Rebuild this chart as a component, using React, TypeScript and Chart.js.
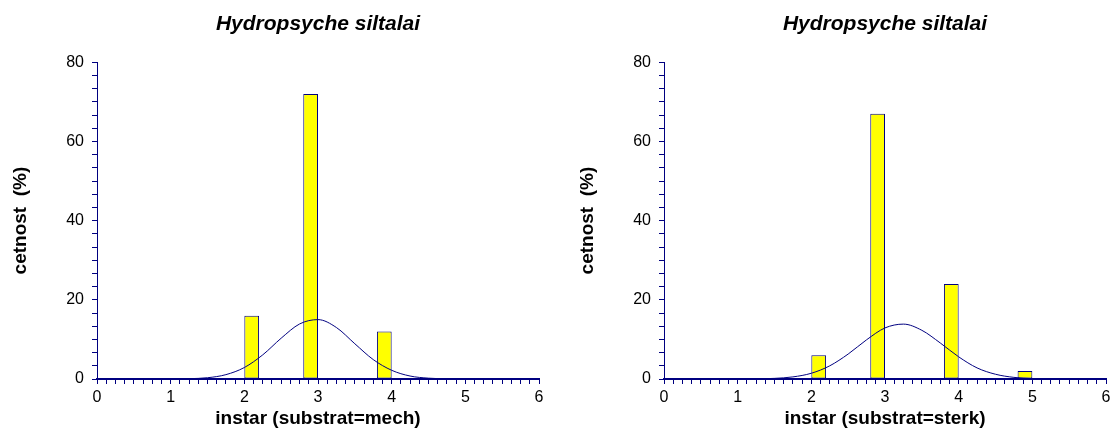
import React, { useEffect, useRef } from "react";
import { Chart, registerables } from "chart.js";

Chart.register(...registerables);

// ---------- data ----------
const chartTitle = "Hydropsyche siltalai";
const yTitle = "cetnost  (%)";
const xTitleLeft = "instar (substrat=mech)";
const xTitleRight = "instar (substrat=sterk)";

// bar centres as drawn (each bar is 0.2 wide)
const barXLeft = [2.1, 2.9, 3.9];
const barYLeft = [16, 72, 12];
const barXRight = [2.1, 2.9, 3.9, 4.9];
const barYRight = [6, 67, 24, 2];
const binWidth = 0.2;

// fitted curve
const curveX = [0, 0.5, 1, 1.25, 1.5, 1.75, 2, 2.25, 2.5, 2.75, 3, 3.25, 3.5, 3.75, 4, 4.25, 4.5, 4.75, 5, 5.5, 6];
const curveLeft = [0, 0, 0.02, 0.08, 0.32, 1.1, 2.9, 6.1, 10.3, 13.9, 15.0, 13.0, 8.9, 4.9, 2.2, 0.75, 0.21, 0.05, 0.01, 0, 0];
const curveRight = [0, 0, 0.01, 0.04, 0.16, 0.53, 1.45, 3.33, 6.3, 9.9, 12.9, 13.86, 12.3, 9.1, 5.6, 2.8, 1.2, 0.41, 0.12, 0.01, 0];

const xTickLabels = ["0", "1", "2", "3", "4", "5", "6"];
const yTickLabels = ["0", "20", "40", "60", "80"];
const xMin = 0, xMax = 6, xMinorPerMajor = 8;
const yMin = 0, yMax = 80, yMinorPerMajor = 6;

const NAVY = "#000080";
const FONT = "'Liberation Sans', Arial, Helvetica, sans-serif";

type PanelProps = {
  left: number;
  width: number;
  barX: number[];
  barY: number[];
  curve: number[];
  xTitle: string;
  yAxisWidth: number;
  padRight: number;
  yTitlePad: number;
};

function Panel(p: PanelProps) {
  const ref = useRef<HTMLCanvasElement>(null);
  useEffect(() => {
    if (!ref.current) return;
    const xStep = 1 / xMinorPerMajor;
    const yStep = 20 / yMinorPerMajor;
    const chart = new Chart(ref.current, {
      type: "bar",
      data: {
        datasets: [
          {
            type: "line",
            data: curveX.map((x, i) => ({ x, y: p.curve[i] })),
            borderColor: NAVY,
            borderWidth: 1,
            pointRadius: 0,
            cubicInterpolationMode: "monotone",
            fill: false,
            order: 0,
          } as any,
          {
            type: "bar",
            data: p.barX.map((x, i) => ({ x, y: p.barY[i] })),
            backgroundColor: "#ffff00",
            borderColor: NAVY,
            borderWidth: 1,
            borderSkipped: false,
            categoryPercentage: 1,
            barPercentage: binWidth / xStep,
            order: 1,
          } as any,
        ],
      },
      options: {
        responsive: false,
        animation: false,
        layout: { padding: { left: 0, right: p.padRight, top: 0, bottom: 0 } },
        plugins: {
          legend: { display: false },
          tooltip: { enabled: false },
          title: {
            display: true,
            fullSize: false,
            text: chartTitle,
            color: "#000",
            font: { family: FONT, size: 21, weight: "bold", style: "italic" },
            padding: { top: 12, bottom: 25 },
          },
        },
        scales: {
          x: {
            type: "linear",
            min: xMin,
            max: xMax,
            offset: false,
            afterBuildTicks: (s: any) => {
              const n = (xMax - xMin) * xMinorPerMajor;
              s.ticks = Array.from({ length: n + 1 }, (_, i) => ({ value: xMin + i * xStep }));
            },
            afterFit: (s: any) => {
              s.height = 51;
            },
            ticks: {
              autoSkip: false,
              maxRotation: 0,
              padding: 4,
              color: "#000",
              font: { family: FONT, size: 16 },
              callback: (_v: any, i: number) => (i % xMinorPerMajor === 0 ? xTickLabels[i / xMinorPerMajor] : ""),
            },
            grid: { drawOnChartArea: false, drawTicks: true, tickLength: 5, tickColor: NAVY, offset: false },
            border: { color: NAVY, width: 2 },
            title: {
              display: true,
              text: p.xTitle,
              color: "#000",
              font: { family: FONT, size: 19, weight: "bold" },
              padding: { top: 0, bottom: 0 },
            },
          },
          y: {
            type: "linear",
            min: yMin,
            max: yMax,
            afterBuildTicks: (s: any) => {
              const n = ((yMax - yMin) / 20) * yMinorPerMajor;
              s.ticks = Array.from({ length: n + 1 }, (_, i) => ({ value: yMin + i * yStep }));
            },
            afterFit: (s: any) => {
              s.width = p.yAxisWidth;
            },
            ticks: {
              autoSkip: false,
              padding: 8,
              color: "#000",
              font: { family: FONT, size: 16 },
              callback: (_v: any, i: number) => (i % yMinorPerMajor === 0 ? yTickLabels[i / yMinorPerMajor] : ""),
            },
            grid: { drawOnChartArea: false, drawTicks: true, tickLength: 5, tickColor: NAVY },
            border: { color: NAVY, width: 1 },
            title: {
              display: true,
              text: yTitle,
              color: "#000",
              font: { family: FONT, size: 19, weight: "bold" },
              padding: { top: p.yTitlePad, bottom: 0 },
            },
          },
        },
      } as any,
    });
    return () => chart.destroy();
  }, []);
  return (
    <canvas
      ref={ref}
      width={p.width}
      height={430}
      style={{ position: "absolute", left: p.left, top: 0, width: p.width, height: 430 }}
    />
  );
}

export default function App() {
  return (
    <div style={{ position: "fixed", left: 0, top: 0, width: 1115, height: 430, background: "#fff" }}>
      <Panel
        left={0}
        width={560}
        barX={barXLeft}
        barY={barYLeft}
        curve={curveLeft}
        xTitle={xTitleLeft}
        yAxisWidth={97}
        padRight={21}
        yTitlePad={9}
      />
      <Panel
        left={560}
        width={555}
        barX={barXRight}
        barY={barYRight}
        curve={curveRight}
        xTitle={xTitleRight}
        yAxisWidth={104}
        padRight={9}
        yTitlePad={16}
      />
    </div>
  );
}
